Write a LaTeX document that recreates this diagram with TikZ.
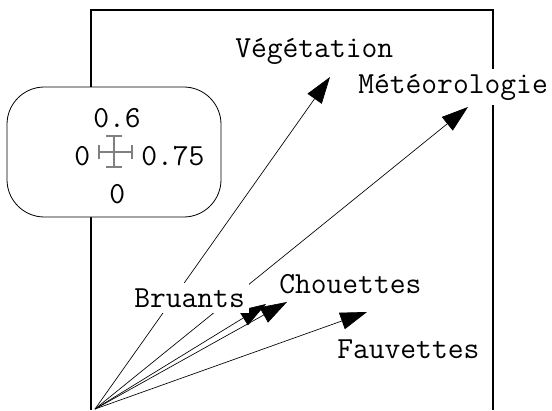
\documentclass[tikz,border=0pt]{standalone}
\usetikzlibrary{arrows.meta}
\begin{document}
\begin{tikzpicture}[x=0.75pt,y=-0.75pt,
  lbl/.style={font=\ttfamily\fontsize{23}{25}\selectfont, anchor=base west, inner sep=0pt},
  clbl/.style={lbl, fill=white, inner xsep=3pt, inner ysep=4pt},
  vec/.style={-{Triangle[length=20pt,width=13pt]}, line width=0.5pt},
  frame/.style={line width=0.9pt},
  bar/.style={gray, line width=0.9pt},
  legend/.style={draw, fill=white, line width=0.6pt, rounded corners=28pt,
                 minimum width=160.5pt, minimum height=97.5pt, inner sep=0pt}]
\useasboundingbox (0,0) rectangle (552,410);
\draw[frame] (91,410) -- (91,10) -- (493,10) -- (493,410);
% arrows
\coordinate (O) at (95,409);
\coordinate (tV) at (330,77);
\coordinate (tM) at (468,107);
\coordinate (tB) at (266,304);
\coordinate (tC) at (287,302);
\coordinate (tF) at (367,312);
\draw[vec] (O) -- (tV);
\draw[vec] (O) -- (tM);
\draw[vec] (O) -- (tB);
\draw[vec] (O) -- (tC);
\draw[vec] (O) -- (tF);
% labels
\node[clbl] (lV) at (231,57) {Végétation};
\node[clbl] (lM) at (354,93) {Météorologie};
\node[clbl] (lB) at (130,307) {Bruants};
\node[clbl] (lC) at (275,293) {Chouettes};
\node[clbl] (lF) at (333,358) {Fauvettes};
% legend box
\node[legend] (box) at (114,152) {};
\coordinate (vt) at (114,136);
\coordinate (vb) at (114,167);
\coordinate (hl) at (99,152);
\coordinate (hr) at (132,152);
\draw[bar] (vt) -- (vb);
\draw[bar] (hl) -- (hr);
\draw[bar] ([xshift=-6pt]vt) -- ([xshift=6pt]vt);
\draw[bar] ([xshift=-6pt]vb) -- ([xshift=6pt]vb);
\draw[bar] ([yshift=-5.6pt]hl) -- ([yshift=5.6pt]hl);
\draw[bar] ([yshift=-5.6pt]hr) -- ([yshift=5.6pt]hr);
\node[lbl] (top) at (93,127) {0.6};
\node[lbl] (left) at (74,165) {0};
\node[lbl] (right) at (141,165) {0.75};
\node[lbl] (bottom) at (109,203) {0};
\end{tikzpicture}
\end{document}
